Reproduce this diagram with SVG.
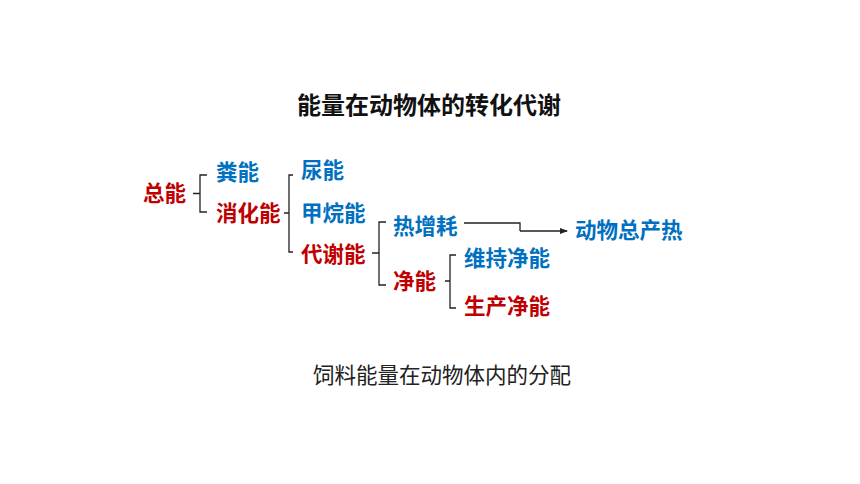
<svg xmlns="http://www.w3.org/2000/svg" width="860" height="484" viewBox="0 0 860 484">
<style>
text{font-family:"Noto Sans CJK SC","Noto Sans",sans-serif;}
.lb{font-size:21.5px;font-weight:bold;}
.r{fill:#C00000;}
.b{fill:#0070C0;}
.t{font-size:24px;font-weight:bold;fill:#111;}
.s{font-size:21.5px;fill:#222;}
.ln{fill:none;stroke:#222;stroke-width:1.3;}
</style>
<defs>
<marker id="ah" markerWidth="8" markerHeight="6" refX="7" refY="3" orient="auto" markerUnits="userSpaceOnUse">
<path d="M0,0 L8,3 L0,6 Z" fill="#222"/>
</marker>
</defs>
<rect width="860" height="484" fill="#fff"/>
<g id="title"><text class="t" x="429" y="114" text-anchor="middle">能量在动物体的转化代谢</text></g>
<g id="n-zongneng"><text class="lb r" x="143" y="201">总能</text></g>
<g id="n-fenneng"><text class="lb b" x="216" y="180">粪能</text></g>
<g id="n-xiaohuaneng"><text class="lb r" x="216" y="221">消化能</text></g>
<g id="n-niaoneng"><text class="lb b" x="301" y="178">尿能</text></g>
<g id="n-jiawanneng"><text class="lb b" x="301" y="221">甲烷能</text></g>
<g id="n-daixieneng"><text class="lb r" x="301" y="262">代谢能</text></g>
<g id="n-rezenghao"><text class="lb b" x="393" y="234">热增耗</text></g>
<g id="n-jingneng"><text class="lb r" x="393" y="289">净能</text></g>
<g id="n-weichi"><text class="lb b" x="464" y="266">维持净能</text></g>
<g id="n-shengchan"><text class="lb r" x="464" y="314">生产净能</text></g>
<g id="n-chanre"><text class="lb b" x="575" y="238">动物总产热</text></g>
<g id="caption"><text class="s" x="442" y="383" text-anchor="middle">饲料能量在动物体内的分配</text></g>
<g id="connectors">
<path class="ln" d="M207,175 H200 V212 H207 M193,193.5 H200"/>
<path class="ln" d="M293,175 H289 V252 H293 M284,213 H289"/>
<path class="ln" d="M386,222 H379 V285 H386 M372,253 H379"/>
<path class="ln" d="M456,255 H450 V308 H456 M445,281 H450"/>
<path class="ln" d="M464,223 H520 V231"/>
<path class="ln" d="M520,231 H567" marker-end="url(#ah)"/>
</g>
</svg>
